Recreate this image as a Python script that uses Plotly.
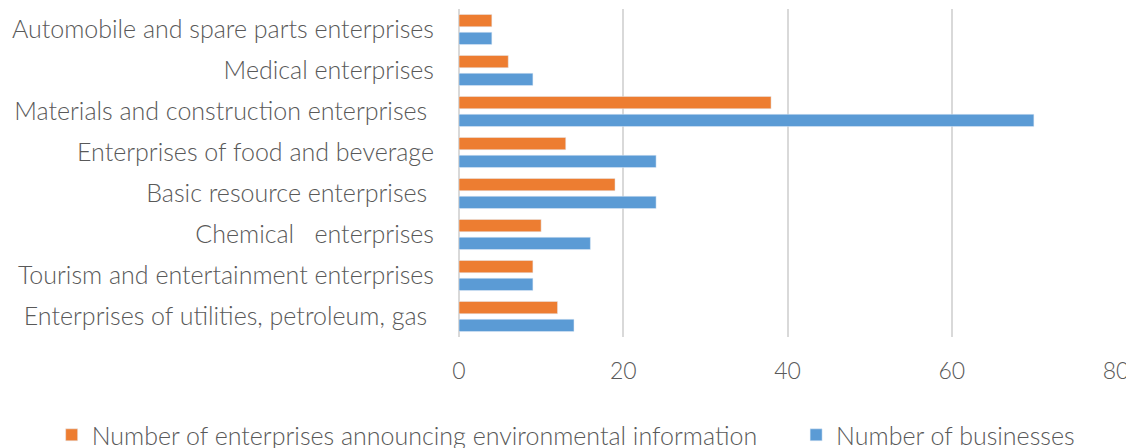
import plotly.graph_objects as go

categories = [
    "Automobile and spare parts enterprises",
    "Medical enterprises",
    "Materials and construction enterprises\u00a0",
    "Enterprises of food and beverage",
    "Basic resource enterprises\u00a0",
    "Chemical\u00a0\u00a0\u00a0enterprises",
    "Tourism and entertainment enterprises",
    "Enterprises of utilities, petroleum, gas\u00a0",
]
announcing = [4, 6, 38, 13, 19, 10, 9, 12]
businesses = [4, 9, 70, 24, 24, 16, 9, 14]
x_ticks = [0, 20, 40, 60, 80]

FONT = "Lato"
TXT = "#595959"

fig = go.Figure()
fig.add_trace(go.Bar(
    y=categories, x=announcing, orientation="h",
    name="Number of enterprises announcing environmental information" + "\u00a0" * 5,
    marker=dict(color="#ED7D31"),
))
fig.add_trace(go.Bar(
    y=categories, x=businesses, orientation="h",
    name="Number of businesses",
    marker=dict(color="#5B9BD5"),
))

# page body has an 8px default margin, so margins are shifted by 8px
fig.update_layout(
    width=1134, height=448,
    margin=dict(l=451, r=26, t=1, b=119, autoexpand=False),
    paper_bgcolor="white", plot_bgcolor="white",
    barmode="group", bargap=0.13, bargroupgap=0.31,
    font=dict(family=FONT, size=24, color=TXT, weight=300),
    showlegend=True,
    legend=dict(
        orientation="h", xref="paper", yref="paper",
        x=-0.62, xanchor="left", y=-0.299, yanchor="middle",
        font=dict(family=FONT, size=25, color=TXT, weight=300),
        itemwidth=30, tracegroupgap=0,
    ),
)
fig.update_xaxes(
    range=[0, 80], tickvals=x_ticks, ticktext=[str(v) for v in x_ticks],
    showgrid=True, gridcolor="#D9D9D9", gridwidth=2,
    zeroline=True, zerolinecolor="#D9D9D9", zerolinewidth=2,
    showline=False, ticks="", ticklabelstandoff=18, automargin=False,
    tickfont=dict(family=FONT, size=23, color=TXT, weight=300),
)
fig.update_yaxes(
    autorange="reversed", showgrid=False, showline=False, ticks="",
    ticklabelstandoff=24, automargin=False,
    tickfont=dict(family=FONT, size=25, color=TXT, weight=300),
)

fig.write_html("out.html")
